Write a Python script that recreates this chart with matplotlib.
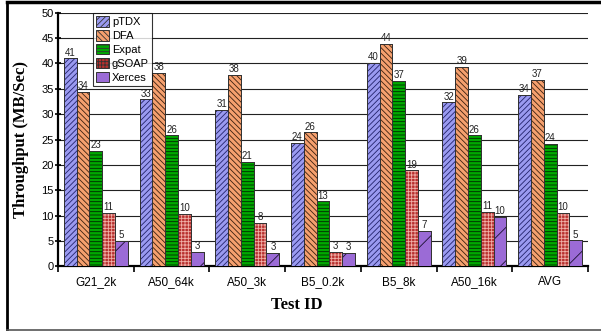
import matplotlib
matplotlib.use("Agg")
import matplotlib.pyplot as plt
import numpy as np
from matplotlib.lines import Line2D
from matplotlib.patches import Patch

categories = ["G21_2k", "A50_64k", "A50_3k", "B5_0.2k", "B5_8k", "A50_16k", "AVG"]
pTDX = [41.0, 32.9, 30.8, 24.3, 40.1, 32.3, 33.8]
DFA = [34.4, 38.1, 37.7, 26.4, 43.9, 39.3, 36.8]
Expat = [22.8, 25.8, 20.6, 12.8, 36.6, 25.8, 24.1]
gSOAP = [10.6, 10.4, 8.5, 2.8, 18.9, 10.7, 10.5]
Xerces = [5.0, 2.8, 2.7, 2.6, 7.0, 9.7, 5.1]
series_names = ["pTDX", "DFA", "Expat", "gSOAP", "Xerces"]
series_values = [pTDX, DFA, Expat, gSOAP, Xerces]

faces = ["#9A9AF0", "#F5A06E", "#00A800", "#B8302E", "#9B6BD6"]
hatches = ["//////", "\\\\\\\\\\\\", "-----", "+++++", "/"]
hatch_cols = ["#22226A", "#3A2010", "#002800", "#F0B0A8", "#1A1030"]

plt.rcParams["hatch.linewidth"] = 0.6
plt.rcParams["font.family"] = ["Liberation Sans", "DejaVu Sans"]

fig = plt.figure(figsize=(6.01, 3.31), dpi=100)
ax = fig.add_axes([58 / 601, 1 - 266.3 / 331, 530 / 601, (266.3 - 12.7) / 331])

x = np.arange(len(categories))
w = 0.169
for i, (name, vals) in enumerate(zip(series_names, series_values)):
    pos = x + (i - 2) * w
    bars = ax.bar(pos, vals, width=w, color=faces[i], edgecolor="#333333",
                  linewidth=0.7, zorder=3, label=name)
    ax.bar(pos, vals, width=w, fill=False, hatch=hatches[i], edgecolor=hatch_cols[i],
           linewidth=0, zorder=4)
    ax.bar(pos, vals, width=w, fill=False, edgecolor="#333333", linewidth=0.7, zorder=5)
    ax.bar_label(bars, labels=[f"{v:.0f}" for v in vals], fontsize=7,
                 color="#222222", padding=0.5, zorder=6)

ax.set_xlim(-0.5, len(categories) - 0.5)
ax.set_ylim(0, 50)
ax.set_yticks(np.arange(0, 51, 5))
ax.set_xticks(x)
ax.set_xticklabels(categories, fontsize=8.5)
ax.set_xticks(np.arange(-0.5, len(categories), 1.0), minor=True)
ax.tick_params(axis="x", which="major", length=0, pad=7)
ax.tick_params(axis="x", which="minor", length=4, width=1.2, direction="out")
ax.tick_params(axis="y", length=4, width=1.2, direction="inout", labelsize=8, pad=1)
ax.grid(axis="y", color="#222222", linewidth=0.8, zorder=0)
ax.set_axisbelow(True)
for s in ["top", "right"]:
    ax.spines[s].set_visible(False)
ax.spines["left"].set_linewidth(1.6)
ax.spines["bottom"].set_linewidth(1.6)

handles = [Patch(facecolor=faces[i], edgecolor="#333333", hatch=hatches[i], linewidth=0.7)
           for i in range(5)]
leg = ax.legend(handles, series_names, loc="upper left", bbox_to_anchor=(0.066, 1.0),
                fontsize=8, frameon=True, fancybox=False, edgecolor="black",
                handlelength=1.1, handleheight=1.1, handletextpad=0.3,
                labelspacing=0.25, borderpad=0.3, borderaxespad=0)
leg.get_frame().set_linewidth(0.8)
leg.set_zorder(10)

fig.text(21 / 601, 1 - 140 / 331, "Throughput (MB/Sec)", rotation=90, ha="center",
         va="center", fontsize=12, fontweight="bold", family="Liberation Serif")
fig.text(297 / 601, 1 - 305 / 331, "Test ID", ha="center", va="center",
         fontsize=12, fontweight="bold", family="Liberation Serif")

fig.add_artist(Line2D([6.5 / 601, 1.0], [1 - 1.5 / 331, 1 - 1.5 / 331],
                      transform=fig.transFigure, color="black", linewidth=2.5))
fig.add_artist(Line2D([6.5 / 601, 6.5 / 601], [1 - 1.5 / 331, 1 - 329.5 / 331],
                      transform=fig.transFigure, color="black", linewidth=2))
fig.add_artist(Line2D([6.5 / 601, 1.0], [1 - 329.5 / 331, 1 - 329.5 / 331],
                      transform=fig.transFigure, color="#555555", linewidth=1.2))

fig.savefig("out.png", dpi=100)
